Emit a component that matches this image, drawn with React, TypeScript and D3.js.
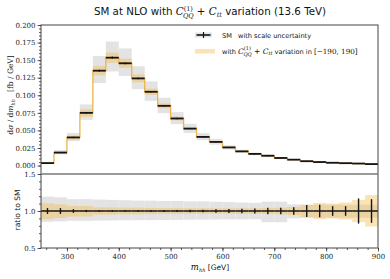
import React, { useEffect, useRef } from "react";
import * as d3 from "d3";

// bin edges in GeV (25 GeV bins), last entry is the upper edge
const binEdges = [250, 275, 300, 325, 350, 375, 400, 425, 450, 475, 500, 525, 550, 575, 600, 625, 650, 675, 700, 725, 750, 775, 800, 825, 850, 875, 900];

// SM NLO differential cross section [fb/GeV]
const smValues = [0.0035, 0.0185, 0.040, 0.075, 0.135, 0.1535, 0.1455, 0.124, 0.105, 0.085, 0.067, 0.0526, 0.0408, 0.0337, 0.0258, 0.0202, 0.0166, 0.0140, 0.0108, 0.0084, 0.0062, 0.0050, 0.0040, 0.0034, 0.0029, 0.0021];

// relative stat error (ratio panel bars)
const statErr = [0.04, 0.04, 0.025, 0.015, 0.01, 0.01, 0.01, 0.01, 0.011, 0.012, 0.014, 0.016, 0.018, 0.022, 0.027, 0.03, 0.035, 0.045, 0.045, 0.05, 0.08, 0.085, 0.065, 0.065, 0.17, 0.16];

// scale uncertainty envelope, ratio to SM
const scaleUp = [1.195, 1.185, 1.16, 1.16, 1.155, 1.15, 1.145, 1.14, 1.14, 1.135, 1.135, 1.13, 1.13, 1.125, 1.12, 1.115, 1.11, 1.127, 1.127, 1.09, 1.085, 1.085, 1.085, 1.085, 1.085, 1.085];
const scaleDown = [0.855, 0.86, 0.868, 0.868, 0.87, 0.872, 0.875, 0.877, 0.877, 0.878, 0.88, 0.882, 0.884, 0.885, 0.886, 0.887, 0.888, 0.848, 0.848, 0.9, 0.91, 0.91, 0.91, 0.91, 0.91, 0.91];

// C_QQ^(1) + C_tt variation envelope, ratio to SM
const varUp = [1.105, 1.09, 1.068, 1.068, 1.05, 1.048, 1.045, 1.045, 1.042, 1.04, 1.04, 1.038, 1.038, 1.036, 1.036, 1.036, 1.036, 1.04, 1.045, 1.055, 1.085, 1.11, 1.10, 1.115, 1.15, 1.215];
const varDown = [0.89, 0.905, 0.925, 0.925, 0.95, 0.952, 0.955, 0.955, 0.958, 0.96, 0.96, 0.962, 0.962, 0.964, 0.964, 0.964, 0.964, 0.96, 0.955, 0.945, 0.915, 0.89, 0.9, 0.885, 0.85, 0.79];

const xTicks = [300, 400, 500, 600, 700, 800, 900];
const yTicks = [0, 0.025, 0.05, 0.075, 0.1, 0.125, 0.15, 0.175, 0.2];
const ratioTicks = [0.5, 1.0, 1.5];

const W = 390;
const H = 279;
const left = 41;
const right = 378;
const top = 25;
const mid = 174;
const bottom = 248;

const serif = "'DejaVu Serif', serif";
const sans = "'DejaVu Sans', sans-serif";
const mathFont = "'DejaVu Serif', serif";

const Chart = () => {
  const ref = useRef<SVGSVGElement>(null);

  useEffect(() => {
    const svg = d3.select(ref.current);
    svg.selectAll("*").remove();

    const x = d3.scaleLinear().domain([250, 900]).range([left, right]);
    const y = d3.scaleLinear().domain([-0.012, 0.2]).range([mid, top]);
    const yr = d3.scaleLinear().domain([0.5, 1.5]).range([bottom, mid]);

    const bins = smValues.map((v, i) => ({
      x0: binEdges[i],
      x1: binEdges[i + 1],
      v,
      err: statErr[i],
      sUp: scaleUp[i],
      sDn: scaleDown[i],
      vUp: varUp[i],
      vDn: varDown[i],
    }));

    const grey = "#e3e3e3";
    const orange = "#f5b840";

    // main panel
    const main = svg.append("g");
    main
      .selectAll(".sband")
      .data(bins)
      .enter()
      .append("rect")
      .attr("x", (d) => x(d.x0))
      .attr("width", (d) => x(d.x1) - x(d.x0))
      .attr("y", (d) => y(d.v * d.sUp))
      .attr("height", (d) => y(d.v * d.sDn) - y(d.v * d.sUp))
      .attr("fill", grey);
    main
      .selectAll(".vband")
      .data(bins)
      .enter()
      .append("rect")
      .attr("x", (d) => x(d.x0))
      .attr("width", (d) => x(d.x1) - x(d.x0))
      .attr("y", (d) => y(d.v * d.vUp))
      .attr("height", (d) => y(d.v * d.vDn) - y(d.v * d.vUp))
      .attr("fill", orange)
      .attr("opacity", 0.4);

    const stepPts: [number, number][] = bins.map((d) => [d.x0, d.v]);
    stepPts.push([binEdges[binEdges.length - 1], smValues[smValues.length - 1]]);
    const step = d3
      .line<[number, number]>()
      .x((d) => x(d[0]))
      .y((d) => y(d[1]))
      .curve(d3.curveStepAfter);
    main
      .append("path")
      .datum(stepPts)
      .attr("fill", "none")
      .attr("stroke", "#eeb44a")
      .attr("stroke-width", 1.3)
      .attr("d", step);

    main
      .selectAll(".hbar")
      .data(bins)
      .enter()
      .append("line")
      .attr("x1", (d) => x(d.x0))
      .attr("x2", (d) => x(d.x1))
      .attr("y1", (d) => y(d.v))
      .attr("y2", (d) => y(d.v))
      .attr("stroke", "#151515")
      .attr("stroke-width", 1.8);
    main
      .selectAll(".vbar")
      .data(bins)
      .enter()
      .append("line")
      .attr("x1", (d) => x((d.x0 + d.x1) / 2))
      .attr("x2", (d) => x((d.x0 + d.x1) / 2))
      .attr("y1", (d) => y(d.v * (1 + d.err)))
      .attr("y2", (d) => y(d.v * (1 - d.err)))
      .attr("stroke", "#151515")
      .attr("stroke-width", 1.2);

    // ratio panel
    const rat = svg.append("g");
    rat
      .selectAll(".sband")
      .data(bins)
      .enter()
      .append("rect")
      .attr("x", (d) => x(d.x0))
      .attr("width", (d) => x(d.x1) - x(d.x0))
      .attr("y", (d) => yr(d.sUp))
      .attr("height", (d) => yr(d.sDn) - yr(d.sUp))
      .attr("fill", grey);
    rat
      .selectAll(".vband")
      .data(bins)
      .enter()
      .append("rect")
      .attr("x", (d) => x(d.x0))
      .attr("width", (d) => x(d.x1) - x(d.x0))
      .attr("y", (d) => yr(d.vUp))
      .attr("height", (d) => yr(d.vDn) - yr(d.vUp))
      .attr("fill", orange)
      .attr("opacity", 0.4);
    rat
      .selectAll(".hbar")
      .data(bins)
      .enter()
      .append("line")
      .attr("x1", (d) => x(d.x0))
      .attr("x2", (d) => x(d.x1))
      .attr("y1", yr(1))
      .attr("y2", yr(1))
      .attr("stroke", "#151515")
      .attr("stroke-width", 1.5);
    rat
      .selectAll(".vbar")
      .data(bins)
      .enter()
      .append("line")
      .attr("x1", (d) => x((d.x0 + d.x1) / 2))
      .attr("x2", (d) => x((d.x0 + d.x1) / 2))
      .attr("y1", (d) => yr(1 + d.err))
      .attr("y2", (d) => yr(1 - d.err))
      .attr("stroke", "#151515")
      .attr("stroke-width", 1.4);

    // frames
    svg
      .append("rect")
      .attr("x", left)
      .attr("y", top)
      .attr("width", right - left)
      .attr("height", bottom - top)
      .attr("fill", "none")
      .attr("stroke", "#444")
      .attr("stroke-width", 1);
    svg
      .append("line")
      .attr("x1", left)
      .attr("x2", right)
      .attr("y1", mid)
      .attr("y2", mid)
      .attr("stroke", "#777")
      .attr("stroke-width", 1.5);

    // axes
    const styleAxis = (g: any) => {
      g.select(".domain").remove();
      g.selectAll("line").attr("stroke", "#333").attr("stroke-width", 0.8);
      g.selectAll("text")
        .attr("font-family", serif)
        .attr("font-size", 7)
        .attr("fill", "#222");
    };

    svg
      .append("g")
      .attr("transform", `translate(${left},0)`)
      .call(d3.axisLeft(y).tickValues(d3.range(0, 0.2001, 0.005)).tickSize(2).tickFormat(() => ""))
      .call(styleAxis);
    svg
      .append("g")
      .attr("transform", `translate(${left},0)`)
      .call(d3.axisLeft(y).tickValues(yTicks).tickSize(3.5).tickPadding(2).tickFormat(d3.format(".3f")))
      .call(styleAxis);

    svg
      .append("g")
      .attr("transform", `translate(${left},0)`)
      .call(d3.axisLeft(yr).tickValues(d3.range(0.5, 1.501, 0.1)).tickSize(2).tickFormat(() => ""))
      .call(styleAxis);
    svg
      .append("g")
      .attr("transform", `translate(${left},0)`)
      .call(d3.axisLeft(yr).tickValues(ratioTicks).tickSize(3.5).tickPadding(2).tickFormat(d3.format(".1f")))
      .call(styleAxis);

    svg
      .append("g")
      .attr("transform", `translate(0,${bottom})`)
      .call(d3.axisBottom(x).tickValues(d3.range(260, 901, 20)).tickSize(2).tickFormat(() => ""))
      .call(styleAxis);
    svg
      .append("g")
      .attr("transform", `translate(0,${bottom})`)
      .call(d3.axisBottom(x).tickValues(xTicks).tickSize(3.5).tickPadding(3).tickFormat(d3.format("d")))
      .call(styleAxis);
  }, []);

  return (
    <svg ref={ref} width={W} height={H} style={{ display: "block", position: "absolute", left: 0, top: 0 }}>
    </svg>
  );
};

const Overlay = () => (
  <svg width={W} height={H} style={{ display: "block", position: "absolute", left: 0, top: 0, pointerEvents: "none" }}>
    {/* title */}
    <text x={210} y={15} textAnchor="middle" fontFamily={sans} fontSize={10.3} fill="#111">
      SM at NLO with{" "}
      <tspan fontFamily={mathFont} fontStyle="italic">C</tspan>
      <tspan fontFamily={mathFont} fontSize={6.5} dy={-4.5}>(1)</tspan>
      <tspan fontFamily={mathFont} fontStyle="italic" fontSize={6.5} dx={-10} dy={7.5}>QQ</tspan>
      <tspan dy={-3}> + </tspan>
      <tspan fontFamily={mathFont} fontStyle="italic">C</tspan>
      <tspan fontFamily={mathFont} fontStyle="italic" fontSize={6.5} dy={2}>tt</tspan>
      <tspan dy={-2}> variation (13.6 TeV)</tspan>
    </text>

    {/* legend */}
    <rect x={195} y={32.5} width={17} height={5} fill="#e3e3e3" />
    <line x1={196.5} x2={210.5} y1={35} y2={35} stroke="#151515" strokeWidth={1.6} />
    <line x1={203.5} x2={203.5} y1={32} y2={38} stroke="#151515" strokeWidth={1.2} />
    <text x={222} y={37.5} fontFamily={sans} fontSize={6.6} fill="#111">SM</text>
    <text x={238} y={37.5} fontFamily={sans} fontSize={6.6} fill="#111">with scale uncertainty</text>
    <rect x={195} y={49} width={20} height={4.5} fill="#f5b840" opacity={0.4} />
    <text x={222} y={53.5} fontFamily={sans} fontSize={6.6} fill="#111">
      with{" "}
      <tspan fontFamily={mathFont} fontStyle="italic" fontSize={7.5}>C</tspan>
      <tspan fontFamily={mathFont} fontSize={5} dy={-3.2}>(1)</tspan>
      <tspan fontFamily={mathFont} fontStyle="italic" fontSize={5} dx={-7.5} dy={5.5}>QQ</tspan>
      <tspan fontSize={7.5} dy={-2.3}> + </tspan>
      <tspan fontFamily={mathFont} fontStyle="italic" fontSize={7.5}>C</tspan>
      <tspan fontFamily={mathFont} fontStyle="italic" fontSize={5} dy={1.5}>tt</tspan>
      <tspan dy={-1.5}> variation in </tspan>
      <tspan fontFamily={mathFont} fontSize={7.2}>[−190, 190]</tspan>
    </text>

    {/* y labels */}
    <text transform="translate(13,95) rotate(-90)" textAnchor="middle" fontFamily={serif} fontSize={7.5} fill="#111">
      d<tspan fontStyle="italic">σ</tspan> / d<tspan fontStyle="italic">m</tspan>
      <tspan fontStyle="italic" fontSize={5} dy={1.5}>hh</tspan>
      <tspan dy={-1.5}>{"\u00a0\u00a0\u00a0"}[fb / GeV]</tspan>
    </text>
    <text transform="translate(20,210) rotate(-90)" textAnchor="middle" fontFamily={sans} fontSize={7.5} fill="#111">
      ratio to SM
    </text>

    {/* x label */}
    <text x={210} y={270} textAnchor="middle" fontFamily={sans} fontSize={7.5} fill="#111">
      <tspan fontFamily={mathFont} fontStyle="italic" fontSize={8.5}>m</tspan>
      <tspan fontFamily={mathFont} fontStyle="italic" fontSize={5} dy={1.5}>hh</tspan>
      <tspan dy={-1.5}> [GeV]</tspan>
    </text>
  </svg>
);

const App = () => (
  <div style={{ position: "absolute", left: 0, top: 0, width: W, height: H }}>
    <Chart />
    <Overlay />
  </div>
);

export default App;
